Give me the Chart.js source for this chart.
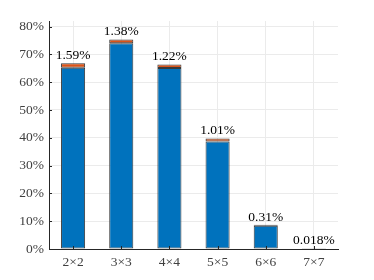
<!DOCTYPE html>
<html><head><meta charset="utf-8">
<style>html,body{margin:0;padding:0;background:#fff}#wrap{width:374px;height:280px}</style>
<script src="https://cdn.jsdelivr.net/npm/chart.js@4/dist/chart.umd.min.js"></script>
</head><body><div id="wrap"><canvas id="c" width="374" height="280"></canvas></div>
<script>
const categories = ['2×2','3×3','4×4','5×5','6×6','7×7'];
const baseValues = [65.2, 74.0, 65.1, 38.7, 8.4, 0.3];
const errorValues = [1.59, 1.38, 1.22, 1.01, 0.31, 0.018];
const errorLabels = ['1.59%','1.38%','1.22%','1.01%','0.31%','0.018%'];
const yTicks = [0,10,20,30,40,50,60,70,80];

const serif = '"Liberation Serif","DejaVu Serif",serif';

const labelPlugin = {
  id: 'topLabels',
  afterDatasetsDraw(chart) {
    const ctx = chart.ctx;
    const x = chart.scales.x, y = chart.scales.y;
    ctx.save();
    ctx.font = '13.5px ' + serif;
    ctx.fillStyle = '#000';
    ctx.textAlign = 'center';
    ctx.textBaseline = 'bottom';
    categories.forEach((c, i) => {
      const px = x.getPixelForValue(i);
      const py = y.getPixelForValue(baseValues[i] + errorValues[i]);
      ctx.fillText(errorLabels[i], px, py - 1);
    });
    // inward tick marks
    ctx.strokeStyle = '#262626';
    ctx.lineWidth = 1;
    ctx.beginPath();
    yTicks.forEach(v => {
      const py = Math.round(y.getPixelForValue(v)) + 0.5;
      ctx.moveTo(x.left, py); ctx.lineTo(x.left + 3, py);
    });
    categories.forEach((c, i) => {
      const px = Math.round(x.getPixelForValue(i)) + 0.5;
      ctx.moveTo(px, y.bottom); ctx.lineTo(px, y.bottom - 3);
    });
    ctx.stroke();
    ctx.restore();
  }
};

new Chart(document.getElementById('c'), {
  type: 'bar',
  data: {
    labels: categories,
    datasets: [
      { data: baseValues, backgroundColor: '#0072BD', borderColor: '#3a3a3a', borderWidth: 1, borderSkipped: false, barPercentage: 0.5, categoryPercentage: 1 },
      { data: errorValues, backgroundColor: '#D95319', borderColor: '#3a3a3a', borderWidth: 1, borderSkipped: false, barPercentage: 0.5, categoryPercentage: 1 }
    ]
  },
  options: {
    responsive: false,
    animation: false,
    devicePixelRatio: 1,
    layout: { padding: { left: 0, right: 36, top: 21, bottom: 0 } },
    plugins: { legend: { display: false }, tooltip: { enabled: false } },
    scales: {
      x: {
        stacked: true,
        offset: true,
        grid: { offset: false, color: '#ebebeb', drawTicks: false },
        border: { color: '#262626', width: 1 },
        ticks: { color: '#404040', font: { family: serif, size: 13.5 }, padding: 5, maxRotation: 0 },
        afterFit(s) { s.height = 31; }
      },
      y: {
        stacked: true,
        min: 0, max: 82,
        grid: { color: '#ebebeb', drawTicks: false },
        border: { color: '#262626', width: 1 },
        ticks: { stepSize: 10, color: '#404040', font: { family: serif, size: 13.5 }, padding: 5, callback: v => v + '%' },
        afterBuildTicks(s) { s.ticks = yTicks.map(v => ({ value: v })); },
        afterFit(s) { s.width = 49; }
      }
    }
  },
  plugins: [labelPlugin]
});
</script></body></html>
